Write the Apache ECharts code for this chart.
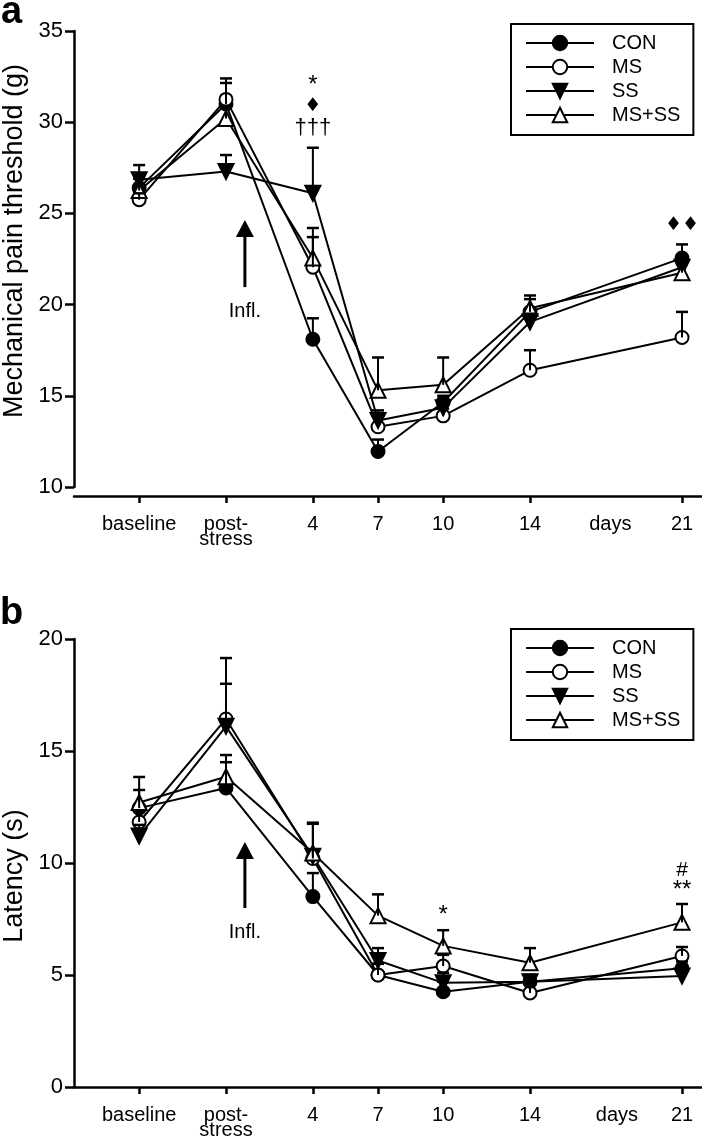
<!DOCTYPE html>
<html><head><meta charset="utf-8">
<script src="https://cdn.jsdelivr.net/npm/echarts@6/dist/echarts.min.js"></script>
<style>html,body{margin:0;padding:0;background:#fff}#c{width:702px;height:1137px}</style>
</head><body><div id="c"></div>
<script>
// ---------- data ----------
const seriesNames = ['CON', 'MS', 'SS', 'MS+SS'];
const dayValues = [-4, 0, 4, 7, 10, 14, 21];
const dayLabels = ['baseline', 'post-\nstress', '4', '7', '10', '14', '21'];
const daysWordA = 17.7;
const daysWordB = 18.0;

// Panel a: mechanical pain threshold (g)
const conA = [26.4, 31.0, 18.1, 11.95, 14.65, 19.6, 22.55];
const msA  = [25.75, 31.25, 22.05, 13.3, 13.9, 16.4, 18.2];
const ssA  = [26.85, 27.3, 26.1, 13.65, 14.35, 19.05, 22.05];
const mssA = [26.25, 30.2, 22.55, 15.3, 15.6, 19.8, 21.75];
// upper ends of error bars
const conAErr = [26.9, 32.15, 19.25, 12.6, 15.0, 20.3, 23.3];
const msAErr  = [26.1, 32.4, 23.7, 14.05, 14.3, 17.5, 19.6];
const ssAErr  = [27.65, 28.2, 28.6, 14.2, 14.8, 19.5, 22.6];
const mssAErr = [26.9, 30.9, 24.2, 17.1, 17.1, 20.5, 22.2];

// Panel b: latency (s)
const conB = [12.45, 13.35, 8.5, 5.0, 4.25, 4.7, 5.3];
const msB  = [11.83, 16.43, 10.2, 5.0, 5.4, 4.2, 5.85];
const ssB  = [11.2, 16.1, 10.3, 5.65, 4.65, 4.7, 4.95];
const mssB = [12.7, 13.85, 10.45, 7.65, 6.3, 5.55, 7.35];
const conBErr = [13.26, 14.5, 9.55, 5.5, 4.7, 5.0, 5.6];
const msBErr  = [12.3, 19.15, 11.75, 5.5, 5.9, 4.6, 6.25];
const ssBErr  = [11.7, 18.0, 11.8, 6.2, 5.1, 5.0, 5.3];
const mssBErr = [13.84, 14.82, 10.6, 8.6, 7.0, 6.2, 8.17];

// significance marks [day, value, text]
const marksA = [[4, 32.0, '*'], [4, 30.9, '\u2666'], [4, 29.7, '\u2020\u2020\u2020'], [21, 24.35, '\u2666\u2666']];
const marksB = [[10, 7.68, '*'], [21, 8.79, '**'], [21, 9.69, '#']];
// inflammation arrow [day, bottom, tip, label value]
const arrowA = [0.87, 20.96, 24.64, 19.6];
const arrowB = [0.87, 7.99, 10.94, 6.88];

const yTicksA = [10, 35, 5];
const yTicksB = [0, 20, 5];

// ---------- chart ----------
const FONT = '"Liberation Sans", Arial, sans-serif';
const chart = echarts.init(document.getElementById('c'));

function pairs(vals) { return vals.map((v, i) => [dayValues[i], v]); }
function errData(means, tops) { return means.map((m, i) => [dayValues[i], m, tops[i]]); }

const styles = {
  'CON':   { symbol: 'circle', size: 13, fill: '#000', rot: 0 },
  'MS':    { symbol: 'circle', size: 13, fill: '#fff', rot: 0 },
  'SS':    { symbol: 'triangle', size: 15, fill: '#000', rot: 180 },
  'MS+SS': { symbol: 'triangle', size: 15, fill: '#fff', rot: 0 }
};

function lineSeries(name, vals, idx) {
  const s = styles[name];
  return {
    type: 'line', name: name, xAxisIndex: idx, yAxisIndex: idx,
    data: pairs(vals), symbol: s.symbol, symbolSize: s.size, symbolRotate: s.rot,
    showAllSymbol: true,
    lineStyle: { color: '#000', width: 2 },
    itemStyle: { color: s.fill, borderColor: '#000', borderWidth: 2 },
    emphasis: { disabled: true }, animation: false, z: 2
  };
}

function errSeries(data, idx) {
  return {
    type: 'custom', name: 'err' + idx, xAxisIndex: idx, yAxisIndex: idx,
    data: data, encode: { x: 0, y: [1, 2] }, z: 3, animation: false, silent: true,
    renderItem: function (params, api) {
      const x = api.value(0), lo = api.value(1), hi = api.value(2);
      const p1 = api.coord([x, lo]), p2 = api.coord([x, hi]);
      return { type: 'group', children: [
        { type: 'line', shape: { x1: p1[0], y1: p1[1], x2: p2[0], y2: p2[1] }, style: { stroke: '#000', lineWidth: 2 } },
        { type: 'line', shape: { x1: p2[0] - 6, y1: p2[1], x2: p2[0] + 6, y2: p2[1] }, style: { stroke: '#000', lineWidth: 2.5 } }
      ] };
    }
  };
}

function markSeries(marks, idx) {
  return {
    type: 'custom', name: 'marks' + idx, xAxisIndex: idx, yAxisIndex: idx,
    data: marks, encode: { x: 0, y: 1 }, z: 4, animation: false, silent: true,
    renderItem: function (params, api) {
      const p = api.coord([api.value(0), api.value(1)]);
      const t = marks[params.dataIndex][2];
      let fs = 24;
      let fam = FONT;
      if (t.indexOf('\u2666') >= 0) { fs = 19; fam = '"DejaVu Sans", sans-serif'; }
      if (t.indexOf('\u2020') >= 0) fs = 22;
      if (t === '#') fs = 21;
      return { type: 'text', x: p[0], y: p[1], style: { text: t, fill: '#000', font: fs + 'px ' + fam, align: 'center', verticalAlign: 'middle' } };
    }
  };
}

function arrowSeries(a, idx) {
  return {
    type: 'custom', name: 'arrow' + idx, xAxisIndex: idx, yAxisIndex: idx,
    data: [a], encode: { x: 0, y: [1, 2] }, z: 4, animation: false, silent: true,
    renderItem: function (params, api) {
      const pb = api.coord([api.value(0), api.value(1)]);
      const pt = api.coord([api.value(0), api.value(2)]);
      const pl = api.coord([api.value(0), api.value(3)]);
      const hh = 17, hw = 9;
      return { type: 'group', children: [
        { type: 'line', shape: { x1: pb[0], y1: pb[1], x2: pt[0], y2: pt[1] + hh - 1 }, style: { stroke: '#000', lineWidth: 3 } },
        { type: 'polygon', shape: { points: [[pt[0], pt[1]], [pt[0] - hw, pt[1] + hh], [pt[0] + hw, pt[1] + hh]] }, style: { fill: '#000' } },
        { type: 'text', x: pl[0], y: pl[1], style: { text: 'Infl.', fill: '#000', font: '20px ' + FONT, align: 'center', verticalAlign: 'middle' } }
      ] };
    }
  };
}

function xAxis(idx, daysPos, offset) {
  const labelVals = dayValues.concat([daysPos]);
  return {
    type: 'value', gridIndex: idx, min: -7, max: 21.92, offset: offset,
    splitLine: { show: false },
    axisLine: { show: true, onZero: false, lineStyle: { color: '#000', width: 2.5 } },
    axisTick: { show: true, customValues: dayValues, length: 7, lineStyle: { color: '#000', width: 2.5 } },
    axisLabel: {
      customValues: labelVals, margin: 21, color: '#000', fontSize: 20, lineHeight: 15, fontFamily: FONT,
      formatter: function (v) { const i = dayValues.indexOf(v); return i >= 0 ? dayLabels[i] : 'days'; }
    }
  };
}

function yAxis(idx, ticks, name, namePad) {
  return {
    type: 'value', gridIndex: idx, min: ticks[0], max: ticks[1], interval: ticks[2],
    name: name, nameLocation: 'middle', nameGap: 46,
    nameTextStyle: { color: '#000', fontSize: 27, fontFamily: FONT, padding: namePad },
    splitLine: { show: false },
    axisLine: { show: true, onZero: false, lineStyle: { color: '#000', width: 2.5 } },
    axisTick: { show: true, length: 9, lineStyle: { color: '#000', width: 2.5 } },
    axisLabel: { margin: 11, color: '#000', fontSize: 22, fontFamily: FONT }
  };
}

function legend(top) {
  return {
    data: seriesNames, orient: 'vertical', left: 511, top: top,
    itemWidth: 68, itemHeight: 18, itemGap: 4,
    padding: [9, 13, 10, 14],
    borderColor: '#000', borderWidth: 2, backgroundColor: '#fff',
    textStyle: { color: '#000', fontSize: 20, fontFamily: FONT, padding: [0, 0, 0, 13] },
    selectedMode: false
  };
}

const option = {
  backgroundColor: '#fff',
  animation: false,
  textStyle: { fontFamily: FONT },
  grid: [
    { left: 74, top: 31, right: 0, height: 456, outerBoundsMode: 'none' },
    { left: 74, top: 639, right: 0, height: 448, outerBoundsMode: 'none' }
  ],
  xAxis: [xAxis(0, daysWordA, 9), xAxis(1, daysWordB, 0)],
  yAxis: [yAxis(0, yTicksA, 'Mechanical pain threshold (g)', [0, 0, 0, 36]), yAxis(1, yTicksB, 'Latency (s)', [0, 26, 0, 0])],
  legend: [legend(24), legend(629)],
  graphic: [
    { type: 'text', left: 1, top: -6, style: { text: 'a', fill: '#000', font: 'bold 38px ' + FONT } },
    { type: 'text', left: 0, top: 595, style: { text: 'b', fill: '#000', font: 'bold 38px ' + FONT } }
  ],
  series: [
    lineSeries('CON', conA, 0), lineSeries('MS', msA, 0), lineSeries('SS', ssA, 0), lineSeries('MS+SS', mssA, 0),
    errSeries([].concat(errData(conA, conAErr), errData(msA, msAErr), errData(ssA, ssAErr), errData(mssA, mssAErr)), 0),
    markSeries(marksA, 0), arrowSeries(arrowA, 0),
    lineSeries('CON', conB, 1), lineSeries('MS', msB, 1), lineSeries('SS', ssB, 1), lineSeries('MS+SS', mssB, 1),
    errSeries([].concat(errData(conB, conBErr), errData(msB, msBErr), errData(ssB, ssBErr), errData(mssB, mssBErr)), 1),
    markSeries(marksB, 1), arrowSeries(arrowB, 1)
  ]
};
chart.setOption(option);
</script></body></html>
